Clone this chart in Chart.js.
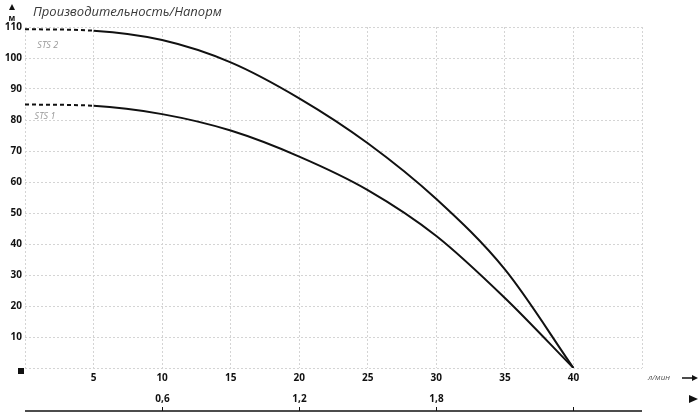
<!DOCTYPE html>
<html>
<head>
<meta charset="utf-8">
<script src="https://cdn.jsdelivr.net/npm/chart.js@4.4.1/dist/chart.umd.min.js"></script>
<style>
  html, body { margin: 0; padding: 0; background: #fff; }
  #wrap { width: 700px; height: 414px; position: relative; }
</style>
</head>
<body>
<div id="wrap"><canvas id="pumpChart"></canvas></div>
<script>
// расход, л/мин
const flow = [0, 5, 10, 15, 20, 25, 30, 35, 40];
// напор, м
const sts2 = [109.3, 108.8, 105.8, 98.6, 87, 72.5, 54.5, 31.8, 0];
const sts1 = [85, 84.6, 81.9, 76.6, 68.2, 57.4, 42.6, 22.6, 0];
// вторая шкала (м3/ч)
const m3hValues = [0.6, 1.2, 1.8, 2.4];
const m3hLabels = ['0,6', '1,2', '1,8', ''];

const tickFont = { family: 'Open Sans', size: 10, weight: 'bold' };

function toPoints(ys) {
    return flow.map((f, i) => ({ x: f, y: ys[i] }));
}

// пунктир на участке 0-5 л/мин
const dashStart = ctx => ctx.p1.parsed.x <= 5 ? [4, 3] : undefined;

const decorPlugin = {
    id: 'decor',
    afterDraw(chart) {
        const c = chart.ctx;
        const x = chart.scales.x;
        const y = chart.scales.y;
        const area = chart.chartArea;
        c.save();

        // заголовок
        c.fillStyle = '#3a3a3a';
        c.font = 'italic 13px "Open Sans"';
        c.textBaseline = 'middle';
        c.textAlign = 'left';
        c.fillText('Производительность/Напорм', 33, 12);

        // стрелка оси Y и единица
        c.fillStyle = '#111';
        c.beginPath();
        c.moveTo(12, 4); c.lineTo(15, 10); c.lineTo(9, 10); c.closePath();
        c.fill();
        c.font = 'bold 8px "Open Sans"';
        c.textAlign = 'center';
        c.fillText('м', 12, 19);

        // квадрат в начале координат
        c.fillRect(area.left - 7, area.bottom, 6, 6);

        // подписи кривых
        c.fillStyle = '#999';
        c.font = 'italic 9px "Open Sans"';
        c.textAlign = 'left';
        c.fillText('STS 2', x.getPixelForValue(0.9), y.getPixelForValue(104.2));
        c.fillText('STS 1', x.getPixelForValue(0.7), y.getPixelForValue(81.3));

        // л/мин и стрелка
        c.fillStyle = '#555';
        c.font = 'italic 8px "Open Sans"';
        c.fillText('л/мин', area.right + 6, area.bottom + 10);
        c.strokeStyle = '#111';
        c.lineWidth = 1.5;
        c.beginPath();
        c.moveTo(682, area.bottom + 10); c.lineTo(694, area.bottom + 10);
        c.stroke();
        c.fillStyle = '#111';
        c.beginPath();
        c.moveTo(698, area.bottom + 10); c.lineTo(692, area.bottom + 7); c.lineTo(692, area.bottom + 13); c.closePath();
        c.fill();

        // вторая шкала
        const lineY = area.bottom + 43;
        c.strokeStyle = '#111';
        c.lineWidth = 1.5;
        c.beginPath();
        c.moveTo(area.left, lineY); c.lineTo(area.right, lineY);
        c.stroke();
        c.lineWidth = 1;
        c.font = 'bold 10px "Open Sans"';
        c.textAlign = 'center';
        c.fillStyle = '#111';
        m3hValues.forEach((v, i) => {
            const px = Math.round(x.getPixelForValue(v / 0.06)) + 0.5;
            c.beginPath();
            c.moveTo(px, lineY); c.lineTo(px, lineY - 4);
            c.stroke();
            c.fillText(m3hLabels[i], px, lineY - 12);
        });
        c.beginPath();
        c.moveTo(698, lineY - 12); c.lineTo(689, lineY - 16); c.lineTo(689, lineY - 8); c.closePath();
        c.fill();

        c.restore();
    }
};

new Chart(document.getElementById('pumpChart'), {
    type: 'line',
    data: {
        datasets: [
            { label: 'STS 2', data: toPoints(sts2), borderColor: '#111', borderWidth: 2, pointRadius: 0, cubicInterpolationMode: 'monotone', segment: { borderDash: dashStart } },
            { label: 'STS 1', data: toPoints(sts1), borderColor: '#111', borderWidth: 2, pointRadius: 0, cubicInterpolationMode: 'monotone', segment: { borderDash: dashStart } }
        ]
    },
    options: {
        responsive: true,
        maintainAspectRatio: false,
        animation: false,
        layout: { padding: { top: 27, right: 58, left: 0, bottom: 0 } },
        plugins: {
            legend: { display: false },
            tooltip: { enabled: false }
        },
        scales: {
            x: {
                type: 'linear',
                min: 0, max: 45,
                afterFit: s => { s.height = 46; },
                ticks: {
                    stepSize: 5,
                    padding: 4,
                    color: '#111',
                    font: tickFont,
                    maxRotation: 0,
                    callback: v => (v === 0 || v === 45) ? '' : v
                },
                grid: { color: '#d4d4d4', drawTicks: false },
                border: { display: false, dash: [2, 2] }
            },
            y: {
                min: 0, max: 110,
                afterFit: s => { s.width = 25; },
                ticks: {
                    stepSize: 10,
                    padding: 3,
                    color: '#111',
                    font: tickFont,
                    callback: v => v === 0 ? '' : v
                },
                grid: { color: '#d4d4d4', drawTicks: false },
                border: { display: false, dash: [2, 2] }
            }
        }
    },
    plugins: [decorPlugin]
});
</script>
</body>
</html>
